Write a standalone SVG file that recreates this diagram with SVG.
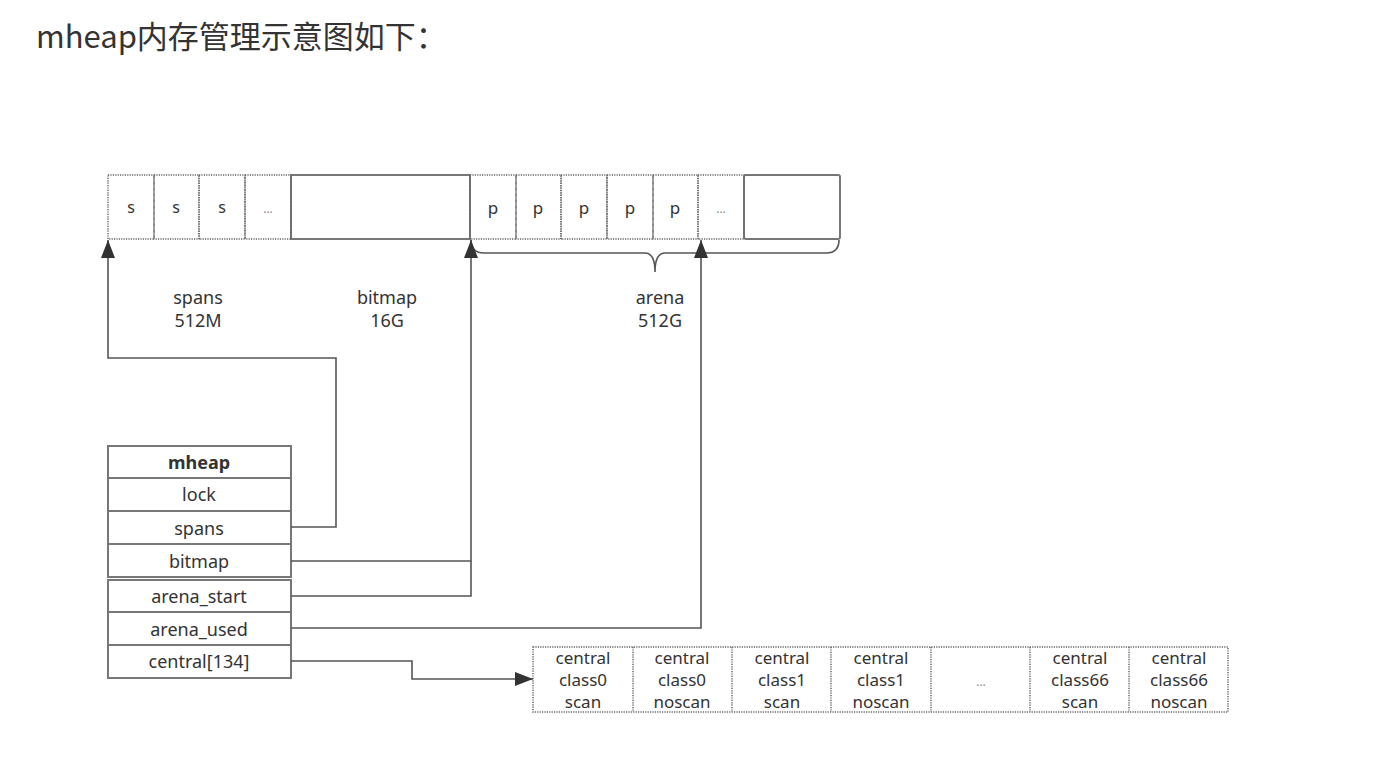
<svg xmlns="http://www.w3.org/2000/svg" width="1376" height="770" viewBox="0 0 1376 770">
<style>
.t{font-family:"Noto Sans","Open Sans","DejaVu Sans",sans-serif;font-size:18px;fill:#333;text-anchor:middle}
.c{font-family:"Noto Sans","Open Sans","DejaVu Sans",sans-serif;font-size:17px;fill:#333;text-anchor:middle}
.dot{fill:none;stroke:#666;stroke-width:1.5;stroke-dasharray:1.2 1.2}
.sol{fill:none;stroke:#777;stroke-width:2}
.row{fill:#fff;stroke:#777;stroke-width:2}
.ln{fill:none;stroke:#555;stroke-width:1.6}
</style>
<defs>
<marker id="au" viewBox="0 0 10 10" refX="10" refY="5" markerWidth="18" markerHeight="14" markerUnits="userSpaceOnUse" orient="auto" preserveAspectRatio="none">
<path d="M0,0 L10,5 L0,10 z" fill="#333"/>
</marker>
</defs>
<rect width="1376" height="770" fill="#fff"/>
<text x="36" y="48" style="font-family:'Noto Sans CJK SC','Noto Sans',sans-serif;font-size:31px;fill:#333">mheap内存管理示意图如下：</text>

<g id="memory">
<rect class="sol" x="291" y="175" width="179" height="64"/>
<rect class="sol" x="744" y="175" width="96" height="64" rx="2"/>
<g id="spans-area">
<rect class="dot" x="108" y="175" width="46" height="64"/>
<rect class="dot" x="154" y="175" width="45" height="64"/>
<rect class="dot" x="199" y="175" width="46" height="64"/>
<rect class="dot" x="245" y="175" width="46" height="64"/>
<text class="t" x="131" y="213" style="font-size:16px">s</text>
<text class="t" x="176" y="213" style="font-size:16px">s</text>
<text class="t" x="222" y="213" style="font-size:16px">s</text>
<text class="t" x="268" y="213" style="font-size:12px;fill:#888">...</text>
</g>
<g id="arena-area">
<rect class="dot" x="470" y="175" width="46" height="64"/>
<rect class="dot" x="516" y="175" width="45" height="64"/>
<rect class="dot" x="561" y="175" width="46" height="64"/>
<rect class="dot" x="607" y="175" width="46" height="64"/>
<rect class="dot" x="653" y="175" width="45" height="64"/>
<rect class="dot" x="698" y="175" width="46" height="64"/>
<text class="t" x="493" y="214" style="font-size:17px">p</text>
<text class="t" x="538" y="214" style="font-size:17px">p</text>
<text class="t" x="584" y="214" style="font-size:17px">p</text>
<text class="t" x="630" y="214" style="font-size:17px">p</text>
<text class="t" x="675" y="214" style="font-size:17px">p</text>
<text class="t" x="721" y="213" style="font-size:12px;fill:#888">...</text>
</g>
<path class="ln" d="M471,240 Q471,253 484,253 L645,253 Q655,253 655,272 Q655,253 665,253 L826,253 Q839,253 839,240"/>
<text class="t" x="198" y="304">spans</text>
<text class="t" x="198" y="327">512M</text>
<text class="t" x="387" y="304">bitmap</text>
<text class="t" x="387" y="327">16G</text>
<text class="t" x="660" y="304">arena</text>
<text class="t" x="660" y="327">512G</text>
</g>

<g id="mheap">
<rect class="row" x="108" y="446" width="183" height="32"/>
<rect class="row" x="108" y="478" width="183" height="33"/>
<rect class="row" x="108" y="511" width="183" height="33"/>
<rect class="row" x="108" y="544" width="183" height="33"/>
<rect class="row" x="108" y="580" width="183" height="32"/>
<rect class="row" x="108" y="612" width="183" height="33"/>
<rect class="row" x="108" y="645" width="183" height="33"/>
<text class="t" x="199" y="469" style="font-weight:bold">mheap</text>
<text class="t" x="199" y="501">lock</text>
<text class="t" x="199" y="535">spans</text>
<text class="t" x="199" y="568">bitmap</text>
<text class="t" x="199" y="603">arena_start</text>
<text class="t" x="199" y="636">arena_used</text>
<text class="t" x="199" y="668">central[134]</text>
</g>

<g id="central">
<rect class="dot" x="533" y="647" width="695" height="65"/>
<path class="dot" d="M633,647V712M732,647V712M831,647V712M931,647V712M1030,647V712M1129,647V712"/>
<g class="c">
<text x="583" y="664">central</text><text x="583" y="686">class0</text><text x="583" y="708">scan</text>
<text x="682" y="664">central</text><text x="682" y="686">class0</text><text x="682" y="708">noscan</text>
<text x="782" y="664">central</text><text x="782" y="686">class1</text><text x="782" y="708">scan</text>
<text x="881" y="664">central</text><text x="881" y="686">class1</text><text x="881" y="708">noscan</text>
<text x="981" y="686" style="font-size:12px;fill:#888">...</text>
<text x="1080" y="664">central</text><text x="1080" y="686">class66</text><text x="1080" y="708">scan</text>
<text x="1179" y="664">central</text><text x="1179" y="686">class66</text><text x="1179" y="708">noscan</text>
</g>
</g>

<g id="connectors">
<path class="ln" d="M291,527 H336 V358 H108 V240" marker-end="url(#au)"/>
<path class="ln" d="M291,561 H471 V240" marker-end="url(#au)"/>
<path class="ln" d="M291,596 H471 V561"/>
<path class="ln" d="M291,628 H701 V240" marker-end="url(#au)"/>
<path class="ln" d="M291,661 H412 V679 H533" marker-end="url(#au)"/>
</g>
</svg>
